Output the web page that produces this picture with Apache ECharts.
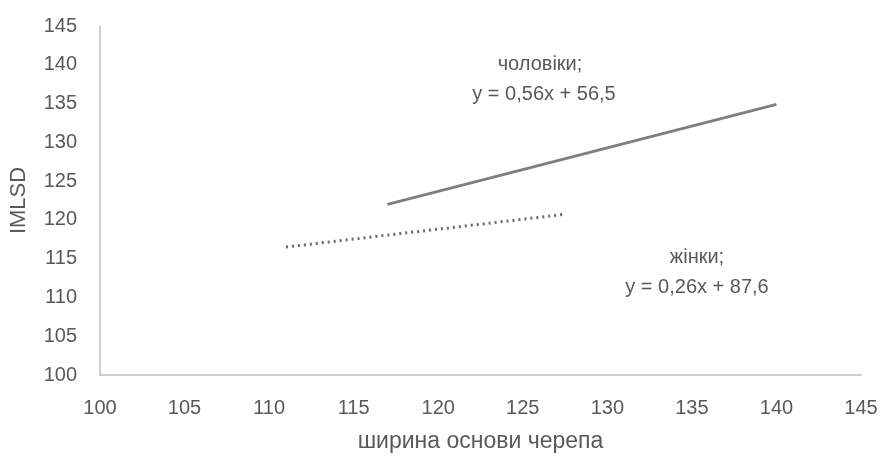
<!DOCTYPE html>
<html>
<head>
<meta charset="utf-8">
<script src="https://cdn.jsdelivr.net/npm/echarts@6/dist/echarts.min.js"></script>
<style>html,body{margin:0;padding:0;background:#fff}#c{width:882px;height:459px}</style>
</head>
<body>
<div id="c"></div>
<script>
// Trendline endpoints
var menX = [117, 140];
var menY = [122.0, 134.9];
var womenX = [111, 127.4];
var womenY = [116.5, 120.7];
var xTicks = [100, 105, 110, 115, 120, 125, 130, 135, 140, 145];
var yTicks = [100, 105, 110, 115, 120, 125, 130, 135, 140, 145];
var menLabel = ['чоловіки;', 'y = 0,56x + 56,5'];
var womenLabel = ['жінки;', 'y = 0,26x + 87,6'];
var xName = 'ширина основи черепа';
var yName = 'IMLSD';

function pairs(xs, ys){ return xs.map(function(x,i){ return [x, ys[i]]; }); }

var FONT = 'Liberation Sans';
var TXT = '#595959';
var chart = echarts.init(document.getElementById('c'), null, {renderer:'canvas'});
chart.setOption({
  animation: false,
  backgroundColor: '#ffffff',
  grid: {left: 100, right: 21, top: 26, bottom: 84, containLabel: false},
  xAxis: {
    type: 'value', min: xTicks[0], max: xTicks[xTicks.length-1], interval: 5,
    name: xName, nameLocation: 'middle', nameGap: 55,
    nameTextStyle: {fontFamily: FONT, fontSize: 23, color: TXT},
    axisLine: {show: true, lineStyle: {color: '#bfbfbf', width: 1.5}},
    axisTick: {show: false},
    splitLine: {show: false},
    axisLabel: {fontFamily: FONT, fontSize: 20, color: TXT, margin: 23}
  },
  yAxis: {
    type: 'value', min: yTicks[0], max: yTicks[yTicks.length-1], interval: 5,
    name: yName, nameLocation: 'middle', nameGap: 70, nameRotate: 90,
    nameTextStyle: {fontFamily: FONT, fontSize: 22, color: TXT},
    axisLine: {show: true, lineStyle: {color: '#bfbfbf', width: 1.5}},
    axisTick: {show: false},
    splitLine: {show: false},
    axisLabel: {fontFamily: FONT, fontSize: 20, color: TXT, margin: 23}
  },
  series: [
    {name: 'чоловіки', type: 'line', data: pairs(menX, menY), symbol: 'none',
     lineStyle: {color: '#7f7f7f', width: 3, type: 'solid'}},
    {name: 'жінки', type: 'line', data: pairs(womenX, womenY), symbol: 'none',
     lineStyle: {color: '#6a6a6a', width: 3, type: [2, 4]}}
  ],
  graphic: [
    {type: 'text', x: 540, y: 64, style: {text: menLabel[0], font: '20px ' + FONT, fill: TXT, align: 'center', verticalAlign: 'middle'}},
    {type: 'text', x: 544, y: 94, style: {text: menLabel[1], font: '20px ' + FONT, fill: TXT, align: 'center', verticalAlign: 'middle'}},
    {type: 'text', x: 697, y: 257, style: {text: womenLabel[0], font: '20px ' + FONT, fill: TXT, align: 'center', verticalAlign: 'middle'}},
    {type: 'text', x: 697, y: 287, style: {text: womenLabel[1], font: '20px ' + FONT, fill: TXT, align: 'center', verticalAlign: 'middle'}}
  ]
});
</script>
</body>
</html>
